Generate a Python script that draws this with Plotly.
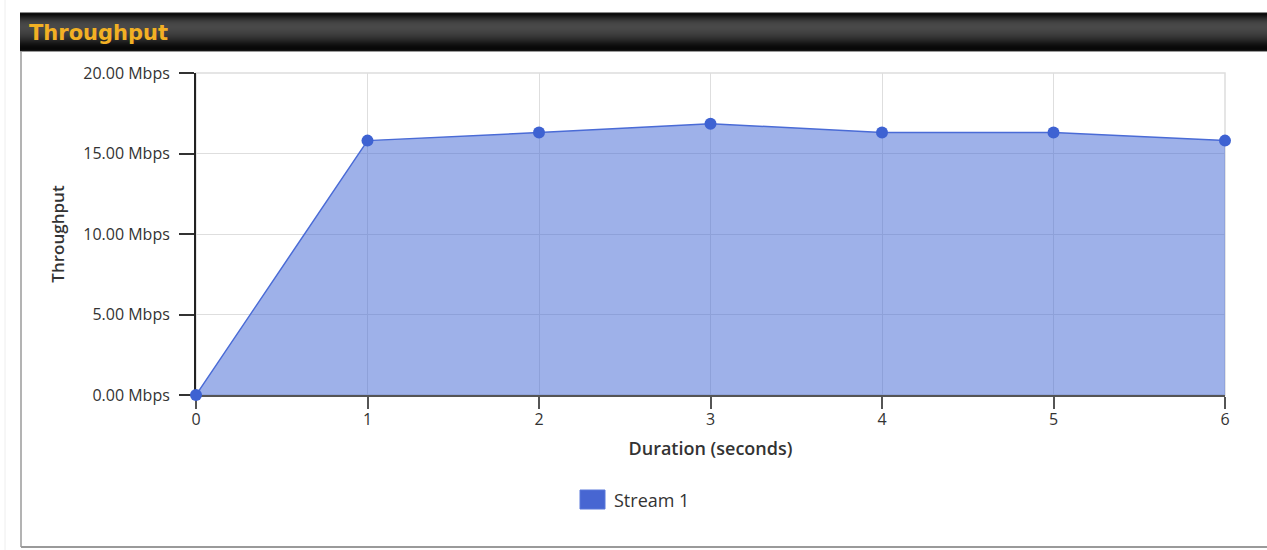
import plotly.graph_objects as go

# Throughput samples for one stream
duration_s = [0, 1, 2, 3, 4, 5, 6]
throughput_mbps = [0.0, 15.8, 16.3, 16.85, 16.3, 16.3, 15.8]
series_name = "Stream 1"
y_tick_values = [0, 5, 10, 15, 20]
y_tick_labels = ["0.00 Mbps", "5.00 Mbps", "10.00 Mbps", "15.00 Mbps", "20.00 Mbps"]
panel_title = "Throughput"

W, H = 1267, 550
L, R, T, B = 196, 1225, 73, 395  # plot area in pixels


def px_x(p):
    return (p - L) / (R - L)


def px_y(p):
    return (B - p) / (B - T)


fig = go.Figure()

fig.add_trace(go.Scatter(
    x=duration_s, y=throughput_mbps, name=series_name,
    mode="lines+markers", fill="tozeroy",
    fillcolor="rgba(62,100,212,0.5)",
    line=dict(color="#4a6bd6", width=1.5),
    marker=dict(color="#3e62d2", size=12),
    cliponaxis=False,
    showlegend=False,
))

shapes = []
# header bar with vertical shading
hdr_top = 12
shade = ["#8a8a8a", "#111111", "#0c0c0c", "#141414", "#1c1c1c", "#242424",
         "#2c2c2c", "#333333", "#393939", "#3e3e3e", "#424242", "#454545",
         "#474747", "#484848", "#494949", "#494949", "#484848", "#474747",
         "#454545", "#434343", "#414141", "#3f3f3f", "#3c3c3c", "#393939",
         "#363636", "#323232", "#2e2e2e", "#2a2a2a", "#252525", "#202020",
         "#1b1b1b", "#161616", "#121212", "#0e0e0e", "#0b0b0b", "#090909",
         "#080808", "#0a0a0a", "#151515", "#9a9a9a"]
for i, c in enumerate(shade):
    y0 = hdr_top + i
    shapes.append(dict(type="rect", xref="paper", yref="paper",
                       x0=px_x(20), x1=px_x(1275), y0=px_y(y0 + 1), y1=px_y(y0),
                       fillcolor=c, line=dict(width=0), layer="below"))
# panel frame below header
shapes.append(dict(type="line", xref="paper", yref="paper",
                   x0=px_x(21), x1=px_x(21), y0=px_y(52), y1=px_y(547),
                   line=dict(color="#9a9a9a", width=1.5), layer="below"))
shapes.append(dict(type="line", xref="paper", yref="paper",
                   x0=px_x(21), x1=px_x(1275), y0=px_y(547), y1=px_y(547),
                   line=dict(color="#9a9a9a", width=2), layer="below"))
shapes.append(dict(type="line", xref="paper", yref="paper",
                   x0=px_x(5), x1=px_x(5), y0=px_y(0), y1=px_y(550),
                   line=dict(color="#eeeeee", width=1), layer="below"))
# plot-area frame on top and right
shapes.append(dict(type="rect", xref="paper", yref="paper",
                   x0=0, x1=1, y0=0, y1=1,
                   line=dict(color="#dddddd", width=1.5), layer="below"))
# legend swatch
shapes.append(dict(type="rect", xref="paper", yref="paper",
                   x0=px_x(580), x1=px_x(605), y0=px_y(509), y1=px_y(490),
                   fillcolor="#4766d2", line=dict(color="#5a78da", width=1)))
fig.update_layout(shapes=shapes)

fig.add_annotation(xref="paper", yref="paper", x=px_x(27), y=px_y(33),
                   xanchor="left", yanchor="middle", showarrow=False,
                   text="<b>" + panel_title + "</b>",
                   font=dict(family="DejaVu Sans", size=21, color="#f2b024"))
fig.add_annotation(xref="paper", yref="paper", x=px_x(612), y=px_y(500),
                   xanchor="left", yanchor="middle", showarrow=False,
                   text=series_name,
                   font=dict(family="Open Sans", size=18, color="#333333"))

fig.update_layout(
    width=W, height=H,
    margin=dict(l=L, r=W - R, t=T, b=H - B, autoexpand=False),
    paper_bgcolor="white", plot_bgcolor="white",
    font=dict(family="Open Sans", size=16, color="#333333"),
    xaxis=dict(
        range=[0, 6], tickvals=duration_s, ticktext=[str(v) for v in duration_s],
        showgrid=True, gridcolor="#dedede", gridwidth=1,
        showline=True, linecolor="#555555", linewidth=2,
        ticks="outside", ticklen=12, tickcolor="#555555", tickwidth=2,
        zeroline=False, automargin=False, ticklabelstandoff=-3,
        layer="below traces",
        tickfont=dict(size=16, color="#333333"),
        title=dict(text="Duration (seconds)", standoff=13,
                   font=dict(family="Open Sans", size=18, weight=600,
                             color="#333333")),
    ),
    yaxis=dict(
        range=[0, 20], tickvals=y_tick_values, ticktext=y_tick_labels,
        showgrid=True, gridcolor="#dedede", gridwidth=1,
        showline=True, linecolor="#222222", linewidth=2,
        ticks="outside", ticklen=15, tickcolor="#333333", tickwidth=2,
        zeroline=False, automargin=False, ticklabelstandoff=6,
        layer="below traces",
        tickfont=dict(size=16, color="#333333"),
        title=dict(text="Throughput", standoff=14,
                   font=dict(family="Open Sans", size=17, weight=600,
                             color="#333333")),
    ),
)

fig.write_html("out.html")
